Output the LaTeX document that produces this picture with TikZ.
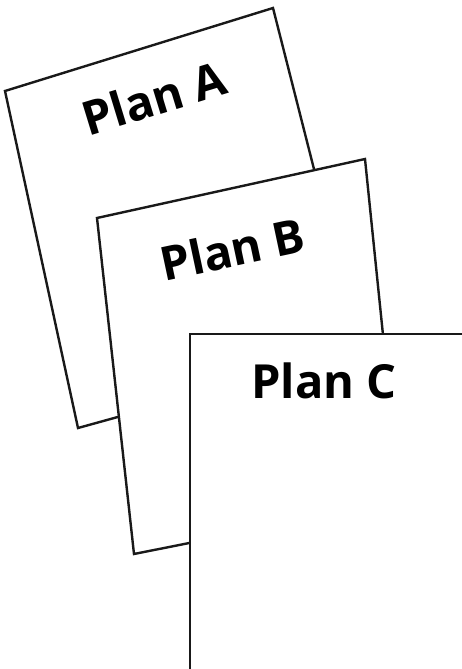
\documentclass[tikz,border=0pt]{standalone}
\usepackage{fontspec}
\setmainfont{Open Sans}
\begin{document}
\begin{tikzpicture}[x=1pt,y=-1pt,
  page/.style={draw=black!90, line width=2.4pt, fill=white, line join=miter},
  title/.style={font=\fontsize{47}{56}\selectfont\bfseries, anchor=base, inner sep=0pt}]
\useasboundingbox (0,0) rectangle (462,669);
\clip (0,0) rectangle (462,669);

% Plan A sheet
\coordinate (a1) at (5,91);
\coordinate (a2) at (273,8);
\coordinate (a3) at (360,350);
\coordinate (a4) at (78,428);
\draw[page] (a1) -- (a2) -- (a3) -- (a4) -- cycle;
\node[title, rotate=17] (ta) at (159,115) {Plan A};

% Plan B sheet
\coordinate (b1) at (97,218);
\coordinate (b2) at (365,159);
\coordinate (b3) at (400,501);
\coordinate (b4) at (134,554);
\draw[page] (b1) -- (b2) -- (b3) -- (b4) -- cycle;
\node[title, rotate=12] (tb) at (236,266) {Plan B};

% Plan C sheet, running off the right and bottom edges
\coordinate (c1) at (190,334);
\coordinate (c2) at (480,334);
\coordinate (c3) at (480,690);
\coordinate (c4) at (190,690);
\draw[page] (c1) -- (c2) -- (c3) -- (c4) -- cycle;
\node[title] (tc) at (324,398) {Plan C};
\end{tikzpicture}
\end{document}
